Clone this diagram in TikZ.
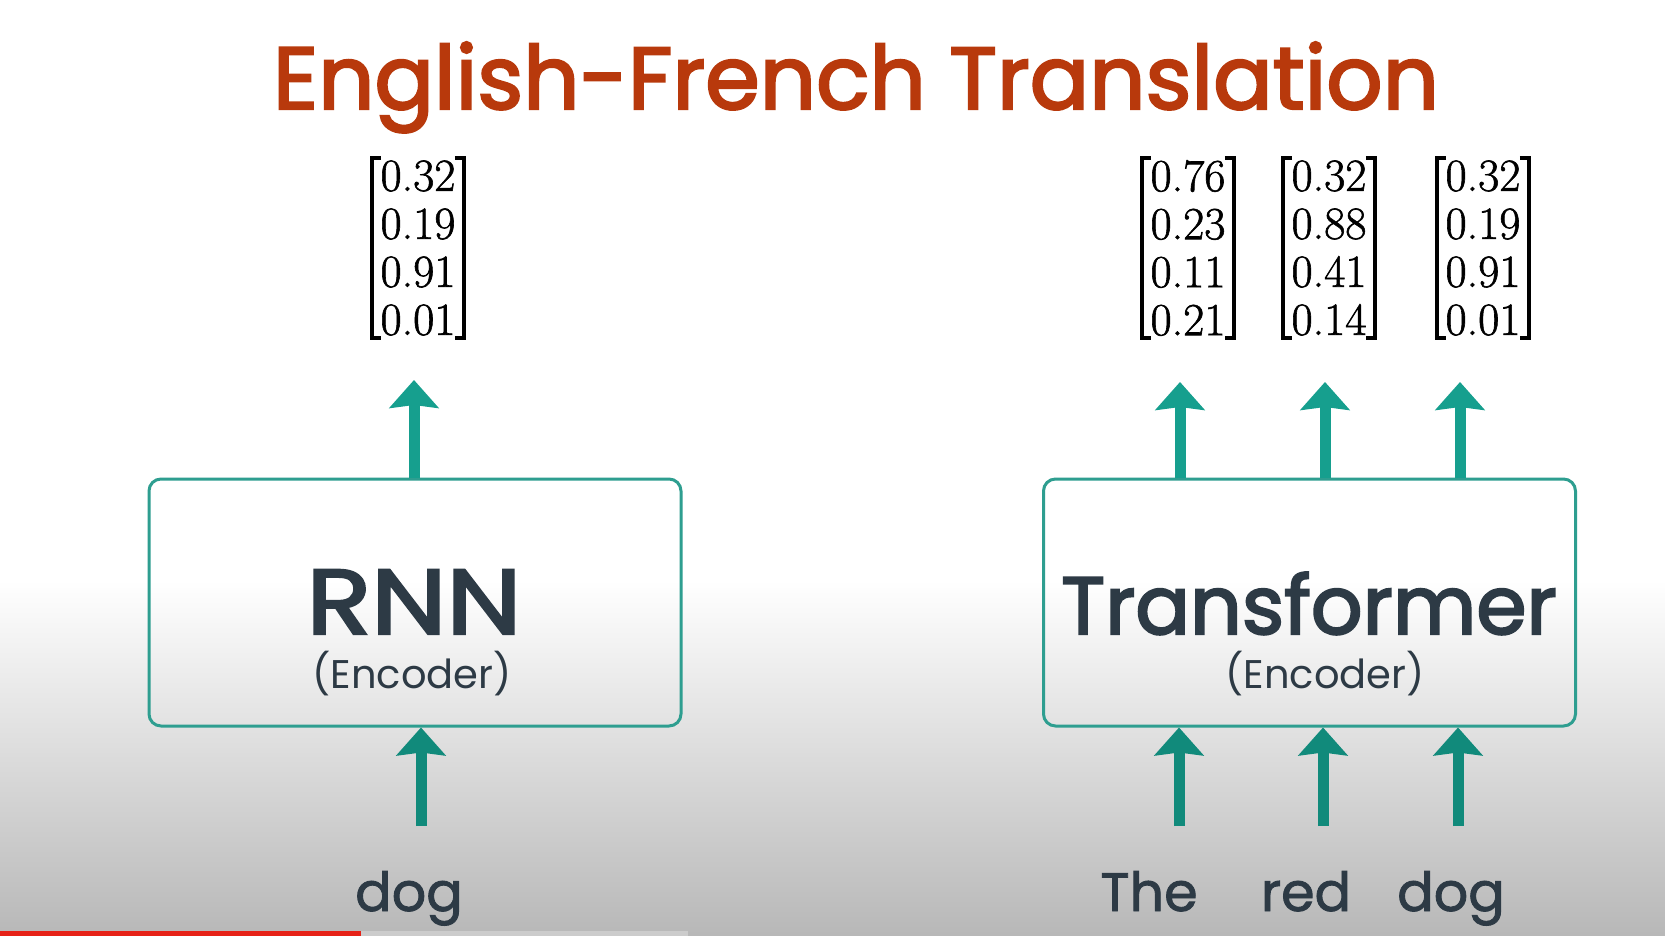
\documentclass[tikz,border=0pt]{standalone}
\usepackage{fontspec}
\usepackage{graphicx}
\newfontfamily\popfont{Poppins}
\newfontfamily\popmed{Poppins}[FakeBold=1.6]
\newfontfamily\popsemi{Poppins}[FakeBold=2.6]
\newfontfamily\numfont{Latin Modern Roman}[FakeBold=1.3]
\usetikzlibrary{arrows.meta, positioning, calc}

\definecolor{titlered}{HTML}{B8390C}
\definecolor{inkdark}{HTML}{2D3A45}
\definecolor{tealtop}{HTML}{169F8E}
\definecolor{tealbot}{HTML}{118A7B}
\definecolor{boxteal}{HTML}{2E9E90}
\definecolor{ytred}{HTML}{E62117}

\begin{document}
\begin{tikzpicture}[
    x=0.5pt, y=-0.5pt,
    encbox/.style={
        draw=boxteal,
        line width=1.5pt,
        rounded corners=6pt,
        minimum width=266pt,
        minimum height=123.5pt
    },
    bigtxt/.style={text=inkdark, anchor=base, inner sep=0pt},
    smalltxt/.style={font=\popfont\fontsize{20}{24}\selectfont, text=inkdark, anchor=base, inner sep=0pt},
    word/.style={font=\popmed\fontsize{27}{30}\selectfont, text=inkdark, anchor=base, inner sep=0pt},
    vec/.style={align=center, font=\numfont\fontsize{23}{24}\selectfont, inner xsep=4pt, inner ysep=1pt},
    bracket/.style={line width=2pt},
    uparrow/.style={-{Stealth[width=24.5pt, length=14pt, inset=1.5pt]}, line width=5.5pt, draw=tealtop},
    inarrow/.style={-{Stealth[width=24.5pt, length=14pt, inset=1.5pt]}, line width=5.5pt, draw=tealbot}
]

% ------------------------
% Background
% ------------------------
\useasboundingbox (0,0) rectangle (1665,936);
\fill[white] (0,0) rectangle (1665,936);
\shade[top color=white, bottom color=black!28] (0,580) rectangle (1665,936);
\fill[black!20] (361,931) rectangle (688,936);
\fill[ytred] (0,931) rectangle (361,936);

% ------------------------
% Title
% ------------------------
\node[font=\popsemi\fontsize{44}{50}\selectfont, text=titlered, anchor=base] (title) at (856,109) {English-French Translation};

% ------------------------
% Encoder boxes
% ------------------------
\node[encbox] (rnn) at (415,602.5) {};
\node[encbox] (trf) at (1309.5,602.5) {};

\node[bigtxt, font=\popsemi\fontsize{46}{50}\selectfont] (rnnname) at (414,634) {\scalebox{1.16}[1]{RNN}};
\node[smalltxt] (rnnsub) at (412,688) {(Encoder)};
\node[bigtxt, font=\popsemi\fontsize{40.5}{50}\selectfont] (trfname) at (1309,634) {Transformer};
\node[smalltxt] (trfsub) at (1325,688) {(Encoder)};

% ------------------------
% Output vectors
% ------------------------
\node[vec] (v0) at (418,248) {0.32\\0.19\\0.91\\0.01};
\node[vec] (v1) at (1188,248) {0.76\\0.23\\0.11\\0.21};
\node[vec] (v2) at (1329,248) {0.32\\0.88\\0.41\\0.14};
\node[vec] (v3) at (1483,248) {0.32\\0.19\\0.91\\0.01};

\foreach \v in {v0,v1,v2,v3} {
    \draw[bracket] ([xshift=4.5pt]\v.north west) -- (\v.north west) -- (\v.south west) -- ([xshift=4.5pt]\v.south west);
    \draw[bracket] ([xshift=-4.5pt]\v.north east) -- (\v.north east) -- (\v.south east) -- ([xshift=-4.5pt]\v.south east);
}

% ------------------------
% Input words
% ------------------------
\node[word] (w0) at (409,911) {dog};
\node[word] (w1) at (1149,911) {The};
\node[word] (w2) at (1306,911) {red};
\node[word] (w3) at (1451,911) {dog};

% ------------------------
% Arrows
% ------------------------
\coordinate (o0) at (414,380);
\coordinate (o1) at (1180,382);
\coordinate (o2) at (1325,382);
\coordinate (o3) at (1460,382);
\draw[uparrow] (o0 |- rnn.north) -- (o0);
\foreach \o in {o1,o2,o3}
    \draw[uparrow] (\o |- trf.north) -- (\o);

\coordinate (i0) at (421,826);
\coordinate (i1) at (1179,826);
\coordinate (i2) at (1323,826);
\coordinate (i3) at (1458,826);
\draw[inarrow] (i0) -- (i0 |- rnn.south);
\foreach \i in {i1,i2,i3}
    \draw[inarrow] (\i) -- (\i |- trf.south);

\end{tikzpicture}
\end{document}
